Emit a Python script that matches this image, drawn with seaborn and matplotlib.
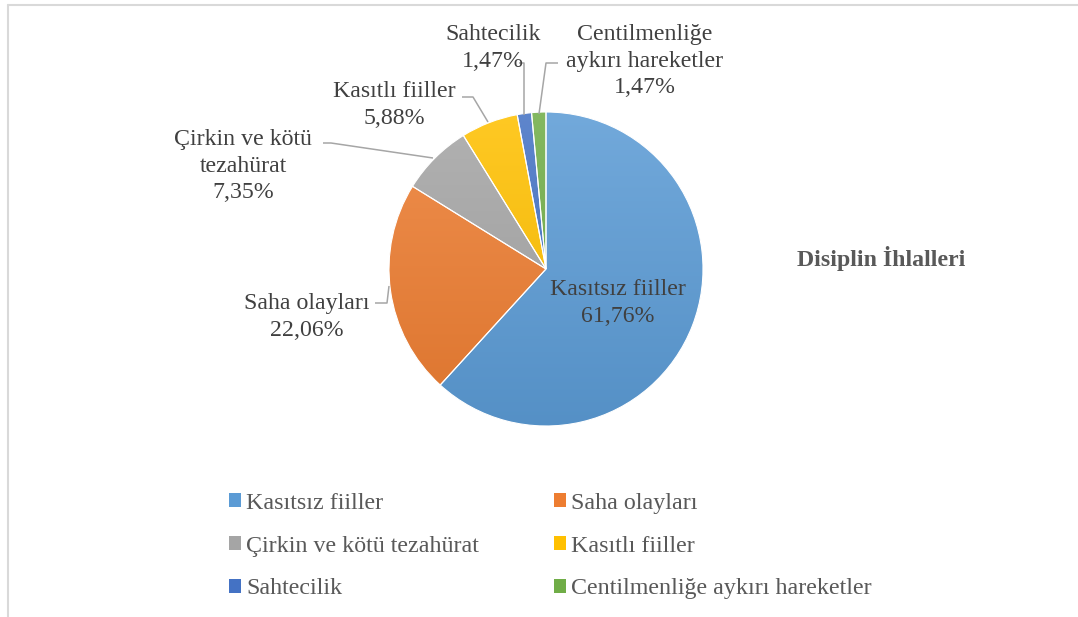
import numpy as np
import matplotlib
matplotlib.use("Agg")
import matplotlib.pyplot as plt
from matplotlib.patches import Patch
from matplotlib.lines import Line2D
import matplotlib.colors as mcolors
import seaborn as sns

# ---- data ----
categories = ["Kasıtsız fiiller", "Saha olayları", "Çirkin ve kötü tezahürat",
              "Kasıtlı fiiller", "Sahtecilik", "Centilmenliğe aykırı hareketler"]
counts = [42, 15, 5, 4, 1, 1]
percent_labels = ["61,76%", "22,06%", "7,35%", "5,88%", "1,47%", "1,47%"]
label_texts = ["Kasıtsız fiiller", "Saha olayları", "Çirkin ve kötü\ntezahürat",
               "Kasıtlı fiiller", "Sahtecilik", "Centilmenliğe\naykırı hareketler"]
title = "Disiplin İhlalleri"

base_colors = ["#5B9BD5", "#ED7D31", "#A5A5A5", "#FFC000", "#4472C4", "#70AD47"]

sns.set_theme(style="white")
plt.rcParams['font.family'] = ['Liberation Serif', 'DejaVu Serif']

W, H = 1078, 617
fig = plt.figure(figsize=(W / 100, H / 100), dpi=100)
fig.patch.set_facecolor("white")

# pie geometry in pixels
cx, cy, R = 546, 269, 157
ax = fig.add_axes([0, 0, 1, 1])
ax.set_axis_off()

palette = sns.color_palette(base_colors)
wedges, _ = ax.pie(counts, colors=palette, startangle=90, counterclock=False,
                   radius=1, center=(0, 0),
                   wedgeprops=dict(edgecolor="white", linewidth=0.8))

def mix(c, t, amt):
    c = np.array(mcolors.to_rgb(c)); t = np.array(mcolors.to_rgb(t))
    return c + (t - c) * amt

for w, c in zip(wedges, palette):
    top = mix(c, "white", 0.14)
    bot = mix(c, "black", 0.07)
    n = 256
    grad = np.linspace(0, 1, n)[:, None, None]
    img = top[None, None, :] * (1 - grad) + bot[None, None, :] * grad
    im = ax.imshow(img, extent=[-1, 1, -1, 1], origin="upper", aspect="auto",
                   zorder=w.get_zorder(), interpolation="bilinear")
    im.set_clip_path(w)
    w.set_facecolor("none")
    w.set_zorder(w.get_zorder() + 0.1)

# axis limits so that 1 data unit == R pixels, center at (cx, cy)
ax.set_xlim((0 - cx) / R, (W - cx) / R)
ax.set_ylim((cy - H) / R, (cy - 0) / R)
ax.set_aspect("auto")

def P(px, py):
    return ((px - cx) / R, (cy - py) / R)

lab_color = "#404040"
fs = 17.2
label_pos = [(618, 303), (307, 317), (243, 166), (394, 105), (493, 48), (645, 61)]
for txt, pct, pos in zip(label_texts, percent_labels, label_pos):
    ax.text(*P(*pos), f"{txt}\n{pct}", ha="center", va="center", fontsize=fs,
            color=lab_color, linespacing=1.32, zorder=5)

# leader lines (pixel polylines)
leaders = [
    [(375, 303), (387, 303), (389, 286)],
    [(323, 143), (331, 143), (433, 158)],
    [(462, 97), (473, 97), (488, 122)],
    [(519, 63), (524, 63), (524, 115)],
    [(558, 63), (546, 63), (539, 114)],
]
for pts in leaders:
    xs, ys = zip(*[P(*p) for p in pts])
    ax.plot(xs, ys, color="#A6A6A6", lw=1.1, zorder=4, solid_capstyle="butt")

# title on the right
ax.text(*P(881, 258), title, ha="center", va="center", fontsize=17.2,
        fontweight="bold", color="#595959")

# legend (row-wise order in two columns)
handles = [Patch(facecolor=c, edgecolor="none") for c in palette]
order = [0, 2, 4, 1, 3, 5]
leg = fig.legend([handles[i] for i in order], [categories[i] for i in order],
                 ncol=2, loc="upper left", bbox_to_anchor=(229 / W, 1 - 493 / H),
                 frameon=False, fontsize=17.3, labelcolor="#595959",
                 handlelength=0.52, handleheight=0.52, handletextpad=0.2,
                 columnspacing=3.1, labelspacing=0.9, borderpad=0, borderaxespad=0)

# outer chart frame (top and left edges visible)
fig.add_artist(Line2D([8 / W, 1.0], [1 - 5 / H, 1 - 5 / H], color="#D9D9D9", lw=1.5))
fig.add_artist(Line2D([8 / W, 8 / W], [0, 1 - 5 / H], color="#D9D9D9", lw=1.5))

fig.savefig("out.png", dpi=100, facecolor="white")
